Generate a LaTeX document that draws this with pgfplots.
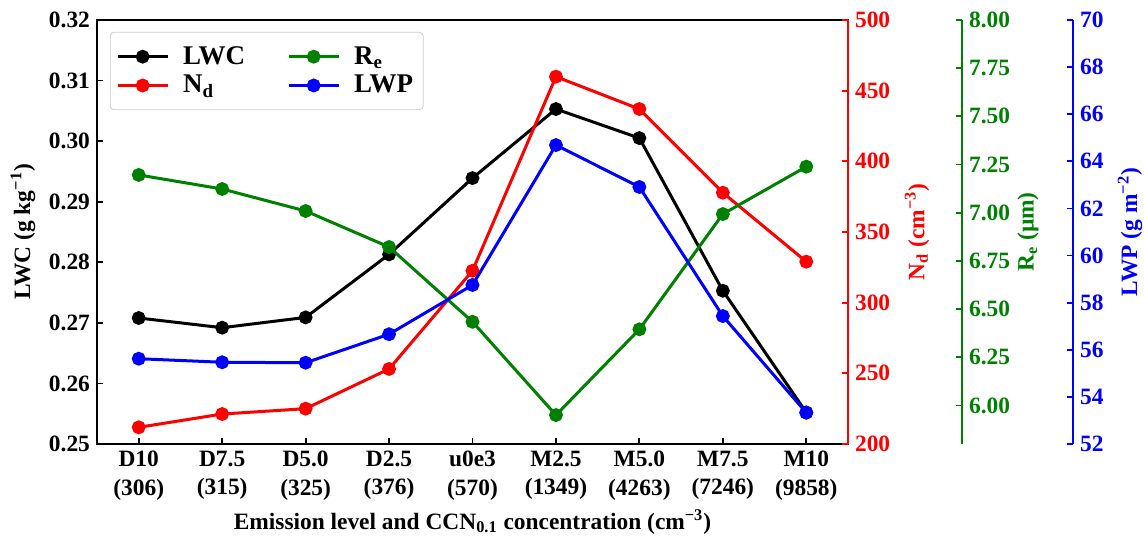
\documentclass[border=0pt]{standalone}
\usepackage{pgfplots}
\pgfplotsset{compat=1.18}
\usepackage{fontspec}
\setmainfont{Liberation Serif}

\definecolor{mred}{HTML}{FF0000}
\definecolor{mgreen}{HTML}{008000}
\definecolor{mblue}{HTML}{0000FF}

\newcommand{\bfs}{\fontsize{11.7}{13}\selectfont\bfseries}

\pgfplotsset{
  base/.style={
    scale only axis, width=375.5pt, height=212pt,
    clip=false,
    tick align=inside, major tick length=3pt,
    tick label style={font=\bfs},
    /pgf/number format/assume math mode=true,
    scaled y ticks=false,
    every axis plot/.append style={line width=1.5pt, mark=*, mark size=2.7pt, mark options={solid}},
  },
  rside/.style={
    base, axis y line*=right, axis x line=none,
    y axis line style={#1, line width=1.1pt},
    ytick style={#1, line width=0.9pt},
    yticklabel style={#1},
  },
}

\begin{document}
\begin{tikzpicture}
\useasboundingbox (-48.5pt,-47.5pt) rectangle (523.5pt,222pt);

% LWC (left axis) with the legend
\begin{axis}[base,
  xmin=-0.5, xmax=8.5,
  ymin=0.25, ymax=0.32,
  ytick={0.25,0.26,0.27,0.28,0.29,0.30,0.31,0.32},
  yticklabel style={/pgf/number format/fixed, /pgf/number format/fixed zerofill, /pgf/number format/precision=2},
  xtick={0,1,2,3,4,5,6,7,8},
  xticklabels={{D10\\(306)},{D7.5\\(315)},{D5.0\\(325)},{D2.5\\(376)},{u0e3\\(570)},{M2.5\\(1349)},{M5.0\\(4263)},{M7.5\\(7246)},{M10\\(9858)}},
  xticklabel style={align=center, font=\fontsize{11.7}{14.2}\selectfont\bfseries},
  xtick pos=bottom, ytick pos=left,
  axis line style={line width=1.1pt},
  every tick/.append style={line width=0.9pt, black},
  xlabel={Emission level and CCN\textsubscript{0.1} concentration (cm\textsuperscript{−3})},
  ylabel={LWC (g kg\textsuperscript{−1})},
  every axis y label/.style={at={([xshift=-37pt]rel axis cs:0,0.5)}, rotate=90, anchor=center, font=\bfs},
  every axis x label/.style={at={([yshift=-39pt]rel axis cs:0.5,0)}, anchor=center, font=\bfs},
  legend columns=2, legend cell align=left,
  legend image code/.code={\draw[mark repeat=2, mark phase=2, #1] plot coordinates {(0pt,0pt) (12.5pt,0pt) (25pt,0pt)}; \path (30pt,0pt);},
  legend style={at={(0.017,0.972)}, anchor=north west, draw=black!20, rounded corners=2pt, fill=white,
    font=\fontsize{13.5}{15}\selectfont\bfseries, inner xsep=3pt, inner ysep=5pt, row sep=0pt,
    /tikz/every even column/.append style={column sep=19pt}},
]
\addplot[black] coordinates {(0,0.2708) (1,0.2692) (2,0.2709) (3,0.2813) (4,0.2939) (5,0.3053) (6,0.3005) (7,0.2753) (8,0.2552)};
\addlegendentry{LWC}
\addlegendimage{mgreen, line width=1.5pt, mark=*, mark size=2.7pt}
\addlegendentry{R\textsubscript{e}}
\addlegendimage{mred, line width=1.5pt, mark=*, mark size=2.7pt}
\addlegendentry{N\textsubscript{d}}
\addlegendimage{mblue, line width=1.5pt, mark=*, mark size=2.7pt}
\addlegendentry{LWP}
\end{axis}

% N_d (right axis)
\begin{axis}[rside=mred,
  xmin=-0.5, xmax=8.5,
  ymin=200, ymax=500, ytick={200,250,300,350,400,450,500},
  ylabel={N\textsubscript{d} (cm\textsuperscript{−3})},
  every axis y label/.style={at={([xshift=34.5pt]rel axis cs:1,0.5)}, rotate=90, anchor=center, font=\bfs, mred},
]
\addplot[mred] coordinates {(0,211.8) (1,221.2) (2,225.0) (3,253.1) (4,322.6) (5,459.9) (6,437.0) (7,377.8) (8,329.0)};
\end{axis}

% R_e (offset axis, shifted 57pt; x range shifted so the points stay in place)
\begin{axis}[rside=mgreen, at={(57pt,0)},
  xmin=0.86618, xmax=9.86618,
  ymin=5.8, ymax=8, ytick={6,6.25,6.5,6.75,7,7.25,7.5,7.75,8},
  yticklabel style={/pgf/number format/fixed, /pgf/number format/fixed zerofill, /pgf/number format/precision=2},
  ylabel={R\textsubscript{e} (µm)},
  every axis y label/.style={at={([xshift=33pt]rel axis cs:1,0.5)}, rotate=90, anchor=center, font=\bfs, mgreen},
]
\addplot[mgreen] coordinates {(0,7.196) (1,7.123) (2,7.009) (3,6.822) (4,6.434) (5,5.950) (6,6.395) (7,6.993) (8,7.239)};
\end{axis}

% LWP (offset axis, shifted 112.5pt)
\begin{axis}[rside=mblue, at={(112.5pt,0)},
  xmin=2.19638, xmax=11.19638,
  ymin=52, ymax=70, ytick={52,54,56,58,60,62,64,66,68,70},
  ylabel={LWP (g m\textsuperscript{−2})},
  every axis y label/.style={at={([xshift=28.5pt]rel axis cs:1,0.5)}, rotate=90, anchor=center, font=\bfs, mblue},
]
\addplot[mblue] coordinates {(0,55.62) (1,55.47) (2,55.45) (3,56.66) (4,58.75) (5,64.69) (6,62.91) (7,57.43) (8,53.33)};
\end{axis}
\end{tikzpicture}
\end{document}
